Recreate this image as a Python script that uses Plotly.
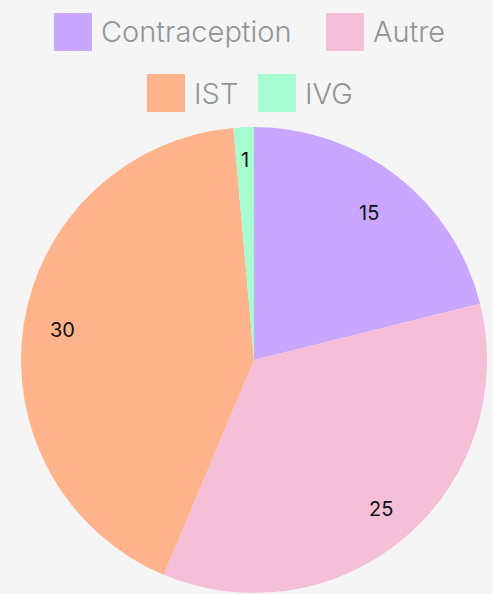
import math
import plotly.graph_objects as go

# data
labels = ["Contraception", "Autre", "IST", "IVG"]
values = [15, 25, 30, 1]
colors = ["#c9a6ff", "#f5bfd8", "#ffb38a", "#a6fcd0"]

W, H = 493, 594
BG = "#f5f5f5"
FONT = "Inter"

# legend layout (pixels): box left x and row centre y for each item
legend_x = [54, 326, 147, 258]
legend_y = [32, 32, 93, 93]
BOX = 38

# pie geometry (pixels), label distance as fraction of radius
CX, CY, R = 254, 360, 233
label_r = [0.80, 0.84, 0.83, 0.86]


def px(x):
    return x / W


def py(y):
    return 1 - y / H


fig = go.Figure()
fig.add_trace(go.Pie(
    labels=labels,
    values=values,
    marker=dict(colors=colors, line=dict(width=0)),
    sort=False,
    direction="clockwise",
    rotation=0,
    textinfo="none",
    domain=dict(x=[px(CX - R), px(CX + R)], y=[py(CY + R), py(CY - R)]),
    showlegend=False,
    hoverinfo="label+value",
))

# value labels at the middle angle of each slice
total = sum(values)
cum = 0
for v, lr in zip(values, label_r):
    mid = (cum + v / 2) / total * 2 * math.pi
    cum += v
    fig.add_annotation(xref="paper", yref="paper",
                       x=px(CX + lr * R * math.sin(mid)),
                       y=py(CY - lr * R * math.cos(mid)),
                       xanchor="center", yanchor="middle",
                       text=str(v), showarrow=False,
                       font=dict(family=FONT, size=20, color="#111111"))

# custom legend with big square swatches
for lab, col, lx, ly in zip(labels, colors, legend_x, legend_y):
    fig.add_shape(type="rect", xref="paper", yref="paper",
                  x0=px(lx), x1=px(lx + BOX), y0=py(ly + BOX / 2), y1=py(ly - BOX / 2),
                  fillcolor=col, line=dict(width=0))
    fig.add_annotation(xref="paper", yref="paper", x=px(lx + BOX + 7), y=py(ly),
                       text=lab, showarrow=False, xanchor="left", yanchor="middle",
                       font=dict(family=FONT, size=29, color="#949494", weight=300))

fig.update_layout(
    width=W, height=H,
    margin=dict(l=0, r=0, t=0, b=0),
    paper_bgcolor=BG,
    plot_bgcolor=BG,
)

fig.write_html("out.html", config={"displayModeBar": False},
               post_script="document.body.style.margin='0';document.body.style.background='%s';" % BG)
